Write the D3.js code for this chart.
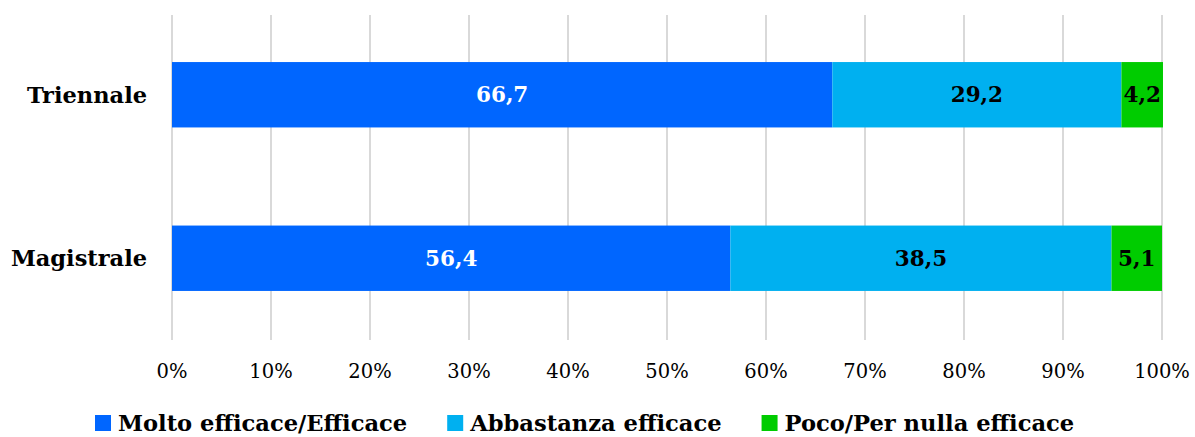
<!DOCTYPE html>
<html>
<head>
<meta charset="utf-8">
<script src="https://cdn.jsdelivr.net/npm/d3@7"></script>
<style>
  body { margin: 0; background: #fff; }
  svg { display: block; }
</style>
</head>
<body>
<div id="chart"></div>
<script>
// data
const categories = ["Triennale", "Magistrale"];
const seriesNames = ["Molto efficace/Efficace", "Abbastanza efficace", "Poco/Per nulla efficace"];
const molto = [66.7, 56.4];
const abbastanza = [29.2, 38.5];
const poco = [4.2, 5.1];
const tickValues = [0, 10, 20, 30, 40, 50, 60, 70, 80, 90, 100];

const colors = ["#0066FF", "#00B0F0", "#00CC00"];
const labelColors = ["#ffffff", "#000000", "#000000"];
const font = "'DejaVu Serif', 'Liberation Serif', serif";

const W = 1195, H = 437;
const margin = { top: 13, right: 33, bottom: 97, left: 172 };
const width = W - margin.left - margin.right;
const height = H - margin.top - margin.bottom;

const rows = categories.map((c, i) => ({
  cat: c,
  [seriesNames[0]]: molto[i],
  [seriesNames[1]]: abbastanza[i],
  [seriesNames[2]]: poco[i]
}));
const stack = d3.stack().keys(seriesNames)(rows);

const svg = d3.select("#chart").append("svg")
  .attr("width", W).attr("height", H);

const g = svg.append("g")
  .attr("transform", `translate(${margin.left},${margin.top})`);

const x = d3.scaleLinear().domain([0, 100]).range([0, width]);
const y = d3.scaleBand().domain(categories).range([0, height])
  .paddingInner(0.6).paddingOuter(0.3);

// gridlines
g.selectAll(".grid").data(tickValues).join("line")
  .attr("x1", d => x(d)).attr("x2", d => x(d))
  .attr("y1", 2).attr("y2", height)
  .attr("stroke", "#d9d9d9").attr("stroke-width", 2);

// bars
const layers = g.selectAll(".layer").data(stack).join("g")
  .attr("fill", (d, i) => colors[i]);

layers.selectAll("rect").data(d => d).join("rect")
  .attr("x", d => x(d[0]))
  .attr("width", d => x(d[1]) - x(d[0]))
  .attr("y", d => y(d.data.cat))
  .attr("height", y.bandwidth());

// value labels
stack.forEach((s, i) => {
  g.selectAll(".lbl" + i).data(s).join("text")
    .attr("x", d => (x(d[0]) + x(d[1])) / 2)
    .attr("y", d => y(d.data.cat) + y.bandwidth() / 2)
    .attr("dy", "0.35em")
    .attr("text-anchor", "middle")
    .style("font-family", font)
    .style("font-weight", "bold")
    .style("font-size", "21.5px")
    .attr("fill", labelColors[i])
    .text(d => d3.format(".1f")(d[1] - d[0]).replace(".", ","));
});

// x axis labels
g.selectAll(".tick-lbl").data(tickValues).join("text")
  .attr("x", d => x(d))
  .attr("y", height + 31)
  .attr("dy", "0.35em")
  .attr("text-anchor", "middle")
  .style("font-family", font)
  .style("font-size", "19.5px")
  .attr("fill", "#000")
  .text(d => d + "%");

// category labels
g.selectAll(".cat-lbl").data(categories).join("text")
  .attr("x", -25)
  .attr("y", d => y(d) + y.bandwidth() / 2)
  .attr("dy", "0.35em")
  .attr("text-anchor", "end")
  .style("font-family", font)
  .style("font-weight", "bold")
  .style("font-size", "22.5px")
  .attr("fill", "#000")
  .text(d => d);

// legend
const legend = svg.append("g").attr("transform", `translate(0, 423)`);
const items = legend.selectAll("g").data(seriesNames).join("g");
items.append("rect")
  .attr("width", 16).attr("height", 16).attr("y", -8)
  .attr("fill", (d, i) => colors[i]);
items.append("text")
  .attr("x", 23).attr("dy", "0.35em")
  .style("font-family", font)
  .style("font-weight", "bold")
  .style("font-size", "22.6px")
  .attr("fill", "#000")
  .text(d => d);

let widths = [];
items.each(function () {
  widths.push(23 + d3.select(this).select("text").node().getComputedTextLength());
});
const gap = 40;
let cx = 95;
items.attr("transform", (d, i) => {
  const t = `translate(${cx},0)`;
  cx += widths[i] + gap;
  return t;
});
</script>
</body>
</html>
